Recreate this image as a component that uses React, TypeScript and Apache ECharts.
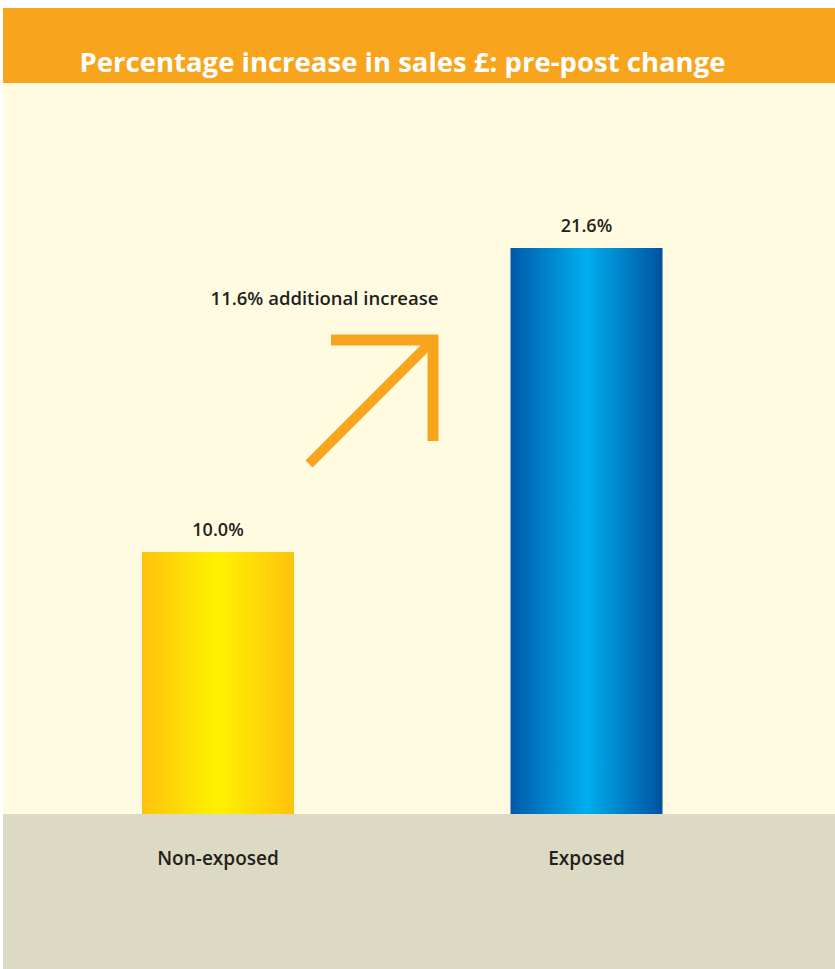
import React, { useEffect, useRef } from "react";
import * as echarts from "echarts";

const categories = ["Non-exposed", "Exposed"];
const values = [10.0, 21.6];
const titleText = "Percentage increase in sales £: pre-post change";
const annotationText = "11.6% additional increase";

const ORANGE = "#F8A51D";
const CREAM = "#FFFBE0";
const GREY = "#DDDAC3";
const DARK = "#231F20";

export default function App() {
  const ref = useRef<HTMLDivElement>(null);
  useEffect(() => {
    const chart = echarts.init(ref.current!, null, { renderer: "svg" });
    const gradients = [
      new echarts.graphic.LinearGradient(0, 0, 1, 0, [
        { offset: 0, color: "#FFC20E" },
        { offset: 0.5, color: "#FFF200" },
        { offset: 1, color: "#FFC20E" },
      ]),
      new echarts.graphic.LinearGradient(0, 0, 1, 0, [
        { offset: 0, color: "#0059A9" },
        { offset: 0.5, color: "#00AEEF" },
        { offset: 1, color: "#0052A0" },
      ]),
    ];
    chart.setOption({
      animation: false,
      textStyle: { fontFamily: "Open Sans" },
      grid: { left: 33.75, width: 737, top: 28, height: 786, outerBoundsMode: "none", containLabel: false },
      xAxis: {
        type: "category",
        data: categories,
        axisLine: { show: false },
        axisTick: { show: false },
        axisLabel: { margin: 34, fontSize: 19, fontWeight: 600, color: DARK, fontFamily: "Open Sans" },
      },
      yAxis: { type: "value", min: 0, max: 30, show: false, splitLine: { show: false } },
      series: [
        {
          type: "bar",
          barWidth: 152,
          z: 5,
          data: values.map((v, i) => ({ value: v, itemStyle: { color: gradients[i] } })),
          label: {
            show: true,
            position: "top",
            distance: 14,
            formatter: (p: any) => p.value.toFixed(1) + "%",
            fontSize: 18,
            fontWeight: 600,
            color: DARK,
            fontFamily: "Open Sans",
          },
        },
      ],
      graphic: [
        { type: "rect", z: -10, shape: { x: 3, y: 8, width: 832, height: 75 }, style: { fill: ORANGE } },
        { type: "rect", z: -10, shape: { x: 3, y: 83, width: 832, height: 731 }, style: { fill: CREAM } },
        { type: "rect", z: -10, shape: { x: 3, y: 814, width: 832, height: 155 }, style: { fill: GREY } },
        {
          type: "text",
          z: 10,
          x: 402.5,
          y: 61,
          style: {
            text: titleText,
            fill: "#ffffff",
            font: "bold 27.5px 'Open Sans'",
            align: "center",
            verticalAlign: "middle",
          },
        },
        {
          type: "text",
          z: 10,
          x: 324.5,
          y: 297,
          style: {
            text: annotationText,
            fill: DARK,
            font: "600 18.5px 'Open Sans'",
            align: "center",
            verticalAlign: "middle",
          },
        },
        {
          type: "polyline",
          z: 10,
          shape: { points: [[331, 340], [433, 340], [433, 441]] },
          style: { stroke: ORANGE, lineWidth: 11, fill: null, lineJoin: "miter", lineCap: "butt" },
        },
        {
          type: "line",
          z: 10,
          shape: { x1: 309, y1: 464, x2: 428, y2: 345 },
          style: { stroke: ORANGE, lineWidth: 10, lineCap: "butt" },
        },
      ],
    });
    return () => chart.dispose();
  }, []);
  return (
    <div
      ref={ref}
      style={{ position: "fixed", left: 0, top: 0, width: 835, height: 969, background: "#ffffff" }}
    />
  );
}
